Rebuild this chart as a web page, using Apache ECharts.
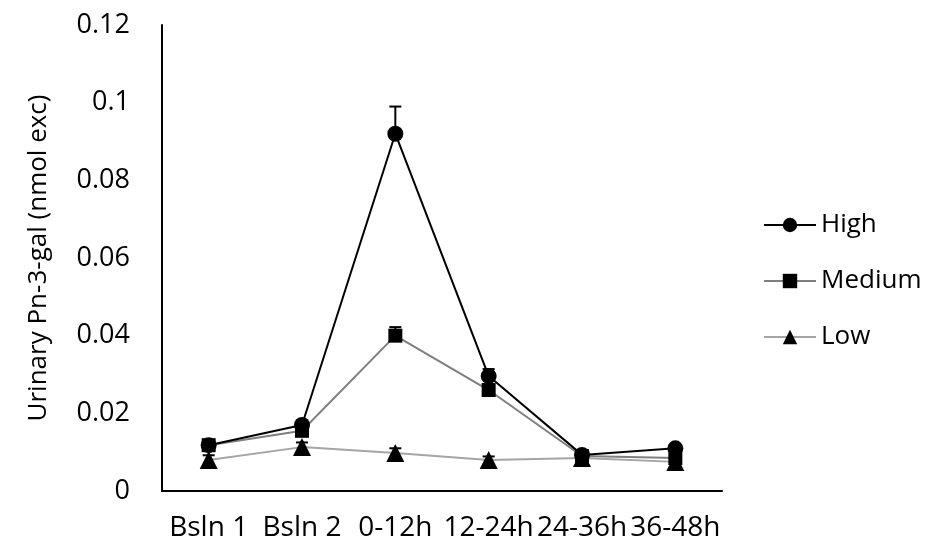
<!DOCTYPE html>
<html>
<head>
<meta charset="utf-8">
<script src="https://cdn.jsdelivr.net/npm/echarts@6/dist/echarts.min.js"></script>
<style>
html, body { margin: 0; padding: 0; background: #fff; }
#chart { width: 932px; height: 547px; }
</style>
</head>
<body>
<div id="chart"></div>
<script>
// categories and values
var categories = ['Bsln 1', 'Bsln 2', '0-12h', '12-24h', '24-36h', '36-48h'];
var highValues = [0.0118, 0.017, 0.092, 0.0296, 0.0093, 0.011];
var highErr = [0.0006, 0.0007, 0.007, 0.0018, 0.0004, 0.0006];
var mediumValues = [0.0118, 0.0155, 0.040, 0.026, 0.009, 0.0085];
var mediumErr = [0.0005, 0.0006, 0.0022, 0.0008, 0.0004, 0.0004];
var lowValues = [0.008, 0.0113, 0.0098, 0.008, 0.0085, 0.0075];
var lowErr = [0.0012, 0.0012, 0.0012, 0.0009, 0.0004, 0.0004];

var font = 'Open Sans';
var chart = echarts.init(document.getElementById('chart'));

// upper error bars, Excel style (plus only, with a cap)
function errData(vals, errs) {
	return vals.map(function (v, i) { return [i, v, v + errs[i]]; });
}
function renderErr(params, api) {
	var lo = api.coord([api.value(0), api.value(1)]);
	var hi = api.coord([api.value(0), api.value(2)]);
	var cap = 6;
	return {
		type: 'group',
		children: [
			{ type: 'line', shape: { x1: lo[0], y1: lo[1], x2: hi[0], y2: hi[1] }, style: { stroke: '#000', lineWidth: 2 } },
			{ type: 'line', shape: { x1: hi[0] - cap, y1: hi[1], x2: hi[0] + cap, y2: hi[1] }, style: { stroke: '#000', lineWidth: 2 } }
		]
	};
}
function errSeries(name, vals, errs) {
	return {
		name: name,
		type: 'custom',
		renderItem: renderErr,
		encode: { x: 0, y: [1, 2] },
		data: errData(vals, errs),
		silent: true,
		z: 1
	};
}

var option = {
	animation: false,
	grid: { left: 162, right: 210, top: 25, bottom: 56 },
	legend: {
		data: ['High', 'Medium', 'Low'],
		orient: 'vertical',
		left: 758,
		top: 204,
		itemWidth: 52,
		itemHeight: 18,
		itemGap: 24,
		textStyle: { fontFamily: font, fontSize: 26, color: '#000', lineHeight: 32 }
	},
	xAxis: {
		type: 'category',
		data: categories,
		axisLine: { lineStyle: { color: '#000', width: 2 } },
		axisTick: { show: false },
		axisLabel: { interval: 0, margin: 23, fontFamily: font, fontSize: 28, color: '#000' }
	},
	yAxis: {
		type: 'value',
		min: 0,
		max: 0.12,
		interval: 0.02,
		name: 'Urinary Pn-3-gal (nmol exc)',
		nameLocation: 'middle',
		nameGap: 110,
		nameTextStyle: { fontFamily: font, fontSize: 26, color: '#000' },
		axisLine: { show: true, lineStyle: { color: '#000', width: 2 } },
		axisTick: { show: false },
		splitLine: { show: false },
		axisLabel: {
			margin: 32,
			fontFamily: font,
			fontSize: 27,
			color: '#000',
			formatter: function (v) { return String(Number(v.toFixed(2))); }
		}
	},
	series: [
		errSeries('errHigh', highValues, highErr),
		errSeries('errMedium', mediumValues, mediumErr),
		errSeries('errLow', lowValues, lowErr),
		{
			name: 'Low', type: 'line', data: lowValues,
			symbol: 'triangle', symbolSize: 18,
			lineStyle: { color: '#a5a5a5', width: 2 },
			itemStyle: { color: '#000', borderWidth: 0 },
			z: 2
		},
		{
			name: 'Medium', type: 'line', data: mediumValues,
			symbol: 'rect', symbolSize: 14,
			lineStyle: { color: '#7f7f7f', width: 2 },
			itemStyle: { color: '#000', borderWidth: 0 },
			z: 3
		},
		{
			name: 'High', type: 'line', data: highValues,
			symbol: 'circle', symbolSize: 16,
			lineStyle: { color: '#000', width: 2 },
			itemStyle: { color: '#000', borderWidth: 0 },
			z: 4
		}
	]
};
chart.setOption(option);
</script>
</body>
</html>
